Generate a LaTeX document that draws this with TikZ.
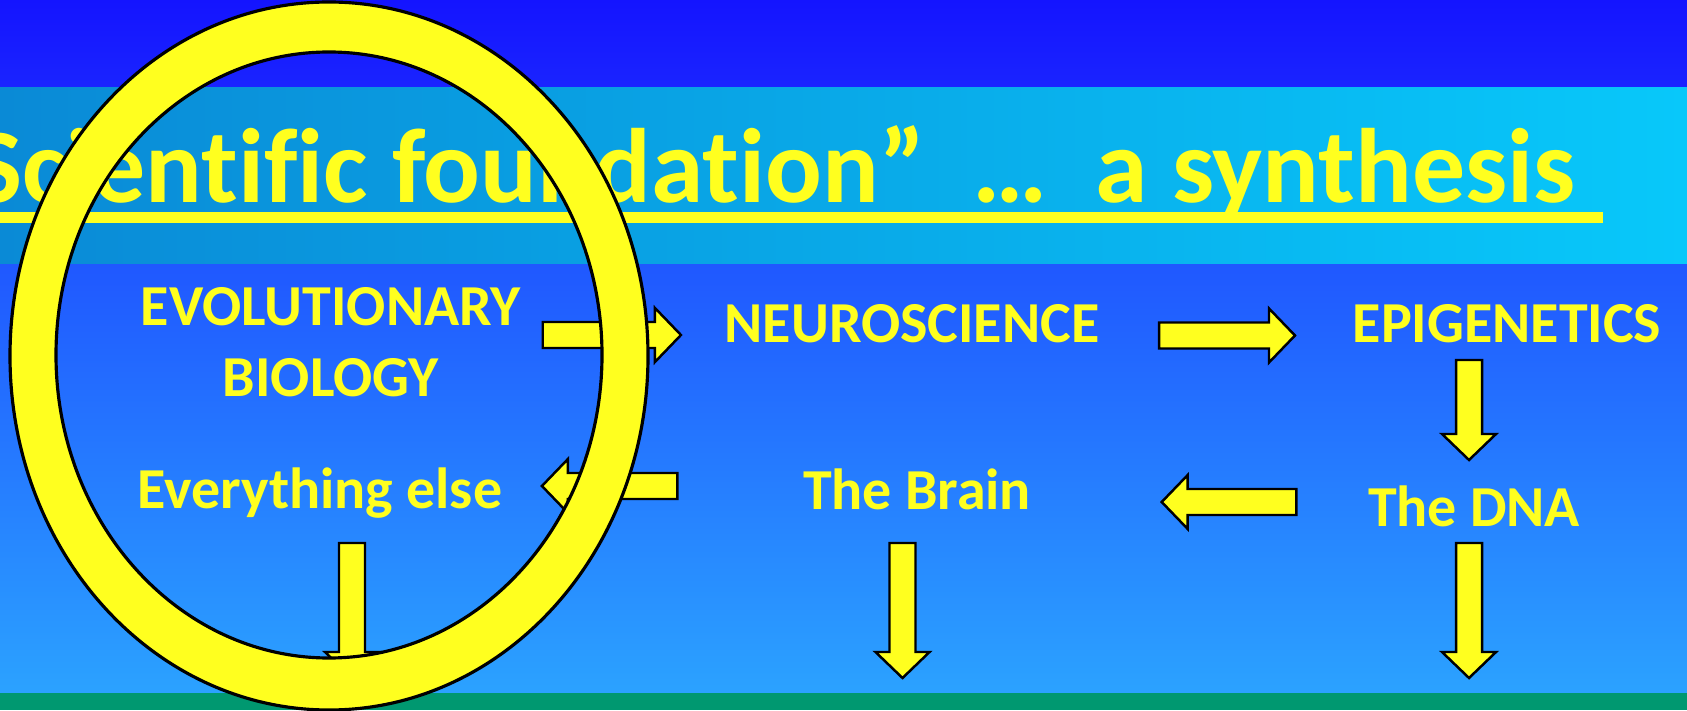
\documentclass[tikz,border=0pt]{standalone}
\usepackage{fontspec}
\setmainfont{Carlito}[Ligatures=CommonOff]
\usetikzlibrary{calc}
\definecolor{SlideYellow}{HTML}{FFFF1F}
\definecolor{SlideTop}{HTML}{1414FF}
\definecolor{SlideTopLow}{HTML}{1A24FF}
\definecolor{BandLeft}{HTML}{0A8AD6}
\definecolor{BandRight}{HTML}{08C8FA}
\definecolor{FieldTop}{HTML}{2058FF}
\definecolor{FieldLow}{HTML}{2BA2FF}
\definecolor{SlideGreen}{HTML}{009870}
\newcommand{\SlideTitle}{\fontsize{30.1}{36}\selectfont\bfseries}
\newcommand{\SlideText}{\fontsize{16.5}{20.2}\selectfont\bfseries}
\tikzset{
  slidetext/.style={
    text=SlideYellow,
    font=\SlideText,
    inner sep=0pt,
    align=center
  },
  blockarrow/.style={
    draw=black,
    fill=SlideYellow,
    line width=0.7pt,
    line join=miter,
    to path={
      ($(\tikztostart)!1.3mm!90:(\tikztotarget)$)
      -- ($(\tikztotarget)!2.6mm!(\tikztostart)!1.3mm!-90:(\tikztostart)$)
      -- ($(\tikztotarget)!2.6mm!(\tikztostart)!2.7mm!-90:(\tikztostart)$)
      -- (\tikztotarget)
      -- ($(\tikztotarget)!2.6mm!(\tikztostart)!2.7mm!90:(\tikztostart)$)
      -- ($(\tikztotarget)!2.6mm!(\tikztostart)!1.3mm!90:(\tikztostart)$)
      -- ($(\tikztostart)!1.3mm!-90:(\tikztotarget)$)
      -- cycle
    }
  },
  ring/.style={
    draw=black,
    fill=SlideYellow,
    line width=0.9pt,
    even odd rule
  }
}
\begin{document}
\begin{tikzpicture}[x=1cm,y=1cm]
\path[use as bounding box] (0,0) rectangle (16.87,7.10);

% slide backdrop
\shade[top color=SlideTop, bottom color=SlideTopLow] (0,6.22) rectangle (16.87,7.10);
\shade[left color=BandLeft, right color=BandRight] (0,4.45) rectangle (16.87,6.22);
\shade[top color=FieldTop, bottom color=FieldLow] (0,0.17) rectangle (16.87,4.45);
\fill[SlideGreen] (0,0) rectangle (16.87,0.17);

\node[font=\SlideTitle, text=SlideYellow, inner sep=0pt, anchor=base east] (title) at (15.76,5.07)
  {Scientific foundation”\ \ …\ \ a synthesis};
\fill[SlideYellow] (0,4.87) rectangle ([xshift=0.27cm,yshift=-0.09cm]title.base east);

\node[slidetext] (evo) at (3.31,3.675) {EVOLUTIONARY\\BIOLOGY};
\node[slidetext, anchor=base] (neuro) at (9.12,3.68) {NEUROSCIENCE};
\node[slidetext, anchor=base] (epi) at (15.07,3.67) {EPIGENETICS};
\node[slidetext, anchor=base] (others) at (3.20,2.02) {Everything else};
\node[slidetext, anchor=base] (brain) at (9.17,2.01) {The Brain};
\node[slidetext, anchor=base] (dna) at (14.74,1.84) {The DNA};

\coordinate (otherstip) at (3.52,0.32);
\coordinate (braintip) at (9.025,0.32);
\coordinate (dnatip) at (14.69,0.32);

\draw[blockarrow] ([shift={(0.21,0.075)}]evo.east) to ([shift={(-0.43,0.07)}]neuro.base west);
\draw[blockarrow] ([shift={(0.59,0.065)}]neuro.base east) to ([shift={(-0.57,0.075)}]epi.base west);
\draw[blockarrow] ([shift={(-0.38,-0.17)}]epi.base) to ([shift={(-0.05,0.66)}]dna.base);
\draw[blockarrow] ([shift={(-0.71,0.24)}]dna.base west) to ([shift={(1.30,0.07)}]brain.base east);
\draw[blockarrow] ([shift={(-1.25,0.23)}]brain.base west) to ([shift={(0.39,0.22)}]others.base east);
\draw[blockarrow] ([shift={(0.32,-0.35)}]others.base) to (otherstip);
\draw[blockarrow] ([shift={(-0.145,-0.34)}]brain.base) to (braintip);
\draw[blockarrow] ([shift={(-0.05,-0.17)}]dna.base) to (dnatip);

\draw[ring] (3.29,3.54) ellipse [x radius=3.19, y radius=3.54]
  (3.29,3.55) ellipse [x radius=2.73, y radius=3.03];

\end{tikzpicture}
\end{document}
